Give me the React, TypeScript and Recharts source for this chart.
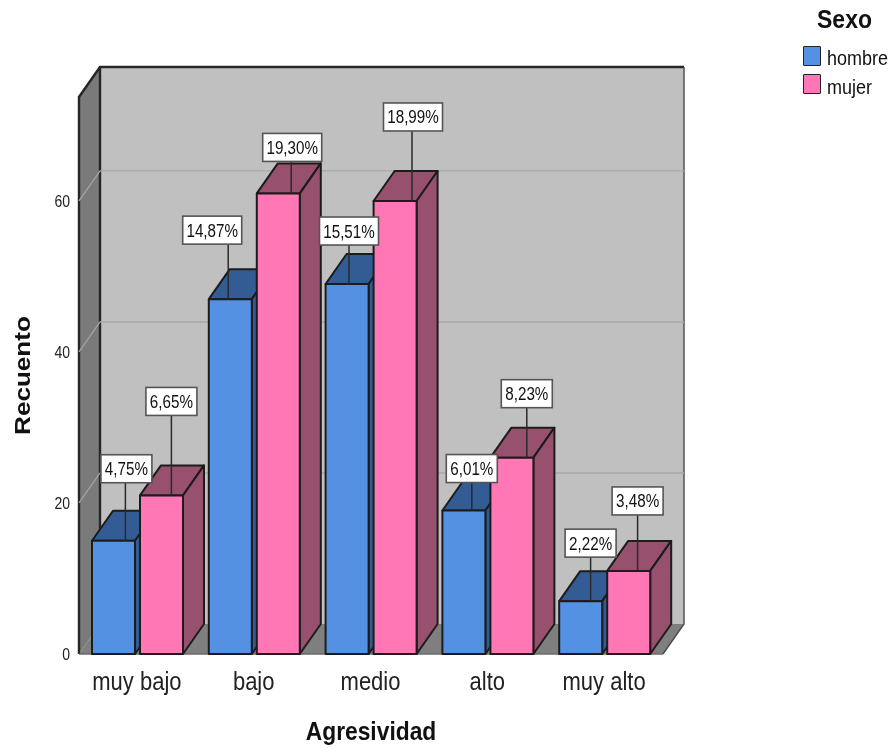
import React from "react";
import { BarChart, Bar, XAxis, YAxis, ReferenceArea, ReferenceLine, ReferenceDot, Legend } from "recharts";

const categories = ["muy bajo", "bajo", "medio", "alto", "muy alto"];
const hombre = [15, 47, 49, 19, 7];
const mujer = [21, 61, 60, 26, 11];
const hombrePct = ["4,75%", "14,87%", "15,51%", "6,01%", "2,22%"];
const mujerPct = ["6,65%", "19,30%", "18,99%", "8,23%", "3,48%"];
const yTicks = [0, 20, 40, 60];
const gridTicks = [20, 40, 60];

// callout placement relative to each bar: leader x, box centre x, box bottom above bar top
const hombreLeaderDx = [12, -2, 2, 8, 10];
const hombreBoxDx = [13, -18, 2, 8, 10];
const hombreRise = [58, 55, 39, 28, 44];
const mujerLeaderDx = [10, 13, 17, 15, 9];
const mujerBoxDx = [10, 14, 18, 15, 9];
const mujerRise = [80, 32, 70, 50, 56];

const data = categories.map((c, i) => ({
  c,
  hombre: hombre[i],
  mujer: mujer[i],
}));

const FONT = "'Liberation Sans', Arial, sans-serif";
const DX = 21;
const DY = 30;
const BAR_W = 43;
const BAR_GAP = 5;
const LINE = "#1c1c1c";
const STRETCH = 1.16;

const Walls = (p: any) => {
  const { x, y, width, height } = p;
  const r = x + width;
  const b = y + height;
  return (
    <g>
      <polygon points={`${x + DX},${y - DY} ${r + DX},${y - DY} ${r + DX},${b - DY} ${x + DX},${b - DY}`} fill="#c0c0c0" />
      <polygon points={`${x},${y} ${x + DX},${y - DY} ${x + DX},${b - DY} ${x},${b}`} fill="#7a7a7a" />
      <polygon points={`${x},${b} ${x + DX},${b - DY} ${r + DX},${b - DY} ${r},${b}`} fill="#7f7f7f" />
      <polyline points={`${x},${b} ${x},${y} ${x + DX},${y - DY} ${r + DX},${y - DY}`} fill="none" stroke="#262626" strokeWidth={2.4} />
      <line x1={x + DX} y1={y - DY} x2={x + DX} y2={b - DY} stroke="#262626" strokeWidth={2.4} />
      <polyline points={`${r + DX},${y - DY} ${r + DX},${b - DY} ${r},${b}`} fill="none" stroke="#4a4a4a" strokeWidth={1.4} />
      <line x1={x} y1={b} x2={r} y2={b} stroke="#6a6a6a" strokeWidth={1.4} />
    </g>
  );
};

const GridLine = (p: any) => {
  const { x1, y1, x2 } = p;
  return (
    <g>
      <line x1={x1 + DX} y1={y1 - DY} x2={x2 + DX} y2={y1 - DY} stroke="#a9a9a9" strokeWidth={1.3} />
      <line x1={x1} y1={y1} x2={x1 + DX} y2={y1 - DY} stroke="#a3a3a3" strokeWidth={1.3} />
    </g>
  );
};

const makeBar = (front: string, dark: string) => (p: any) => {
  const { x, y, width, height } = p;
  const r = x + width;
  const b = y + height;
  return (
    <g stroke={LINE} strokeWidth={2} strokeLinejoin="round">
      <polygon points={`${x},${y} ${x + DX},${y - DY} ${r + DX},${y - DY} ${r},${y}`} fill={dark} />
      <polygon points={`${r},${y} ${r + DX},${y - DY} ${r + DX},${b - DY} ${r},${b}`} fill={dark} />
      <rect x={x} y={y} width={width} height={height} fill={front} />
    </g>
  );
};

const makeCallout = (text: string, leaderDx: number, boxDx: number, rise: number, side: number) => (p: any) => {
  const cx = p.cx + side * ((BAR_W + BAR_GAP) / 2);
  const cy = p.cy;
  const w = text.length > 5 ? 59 : 51;
  const h = 28;
  const bottom = cy - rise;
  return (
    <g>
      <line x1={cx + leaderDx} y1={bottom} x2={cx + leaderDx} y2={cy} stroke="#2a2a2a" strokeWidth={1.5} />
      <rect x={cx + boxDx - w / 2} y={bottom - h} width={w} height={h} fill="#ffffff" stroke="#555555" strokeWidth={1.6} />
      <text
        transform={`translate(${cx + boxDx},${bottom - h / 2 + 6.5}) scale(1,${STRETCH})`}
        textAnchor="middle"
        fontFamily={FONT}
        fontSize={15.2}
        fill="#111"
      >
        {text}
      </text>
    </g>
  );
};

const XTick = (p: any) => (
  <text
    transform={`translate(${p.x - 0.5},${p.y + 24}) scale(1,${STRETCH})`}
    textAnchor="middle"
    fontFamily={FONT}
    fontSize={22}
    fill="#222"
  >
    {p.payload.value}
  </text>
);

const YTick = (p: any) => (
  <text
    transform={`translate(${p.x + 2},${p.y + 6}) scale(1,${STRETCH})`}
    textAnchor="end"
    fontFamily={FONT}
    fontSize={14}
    fill="#222"
  >
    {p.payload.value}
  </text>
);

const XTitle = (p: any) => {
  const { x, width } = p.viewBox;
  return (
    <text
      transform={`translate(${x + width / 2},740) scale(1,${STRETCH})`}
      textAnchor="middle"
      fontFamily={FONT}
      fontSize={22.8}
      fontWeight={700}
      fill="#111"
    >
      Agresividad
    </text>
  );
};

const YTitle = (p: any) => {
  const { y, height } = p.viewBox;
  return (
    <text
      transform={`translate(30,${y + height / 2}) scale(1,${STRETCH}) rotate(-90)`}
      textAnchor="middle"
      fontFamily={FONT}
      fontSize={22.5}
      fontWeight={700}
      fill="#111"
    >
      Recuento
    </text>
  );
};

const legendText = { position: "absolute", left: 24, fontSize: 18, lineHeight: "22px", transform: `scaleY(${STRETCH})`, whiteSpace: "nowrap" } as const;

const LegendBox = () => (
  <div style={{ position: "relative", width: 0, height: 0, fontFamily: FONT, color: "#111" }}>
    <div style={{ position: "absolute", left: 14, top: 6, fontSize: 23, fontWeight: 700, whiteSpace: "nowrap", transform: `scaleY(${STRETCH})` }}>Sexo</div>
    <div style={{ position: "absolute", left: 0, top: 46, width: 16, height: 18, background: "#5591e3", border: "1.6px solid #222", borderRadius: 1 }} />
    <div style={{ ...legendText, top: 47 }}>hombre</div>
    <div style={{ position: "absolute", left: 0, top: 74, width: 16, height: 18, background: "#ff77b4", border: "1.6px solid #222", borderRadius: 1 }} />
    <div style={{ ...legendText, top: 76 }}>mujer</div>
  </div>
);

export default function App() {
  return (
    <div style={{ position: "absolute", left: 0, top: 0, width: 891, height: 748, background: "#fff", filter: "blur(0.4px)" }}>
      <BarChart
        width={891}
        height={748}
        data={data}
        margin={{ top: 97, right: 228, bottom: 44, left: 29 }}
        barSize={BAR_W}
        barGap={BAR_GAP}
      >
        <XAxis dataKey="c" height={50} axisLine={false} tickLine={false} tick={XTick} tickMargin={6} label={XTitle} />
        <YAxis
          width={50}
          domain={[0, 73.77]}
          ticks={yTicks}
          axisLine={false}
          tickLine={false}
          tick={YTick}
          tickMargin={5}
          label={YTitle}
        />
        <ReferenceArea y1={0} y2={73.77} shape={Walls} ifOverflow="visible" />
        {gridTicks.map((t) => (
          <ReferenceLine key={t} y={t} shape={GridLine} ifOverflow="visible" zIndex={200} />
        ))}
        <Legend content={LegendBox} layout="vertical" wrapperStyle={{ position: "absolute", left: 803, top: 0, width: 0, height: 0 }} />
        <Bar dataKey="hombre" isAnimationActive={false} fill="#5591e3" shape={makeBar("#5591e3", "#335c94")} />
        <Bar dataKey="mujer" isAnimationActive={false} fill="#ff77b4" shape={makeBar("#ff77b4", "#98506f")} />
        {categories.map((c, i) => (
          <ReferenceDot key={"h" + c} x={c} y={hombre[i]} ifOverflow="visible" shape={makeCallout(hombrePct[i], hombreLeaderDx[i], hombreBoxDx[i], hombreRise[i], -1)} />
        ))}
        {categories.map((c, i) => (
          <ReferenceDot key={"m" + c} x={c} y={mujer[i]} ifOverflow="visible" shape={makeCallout(mujerPct[i], mujerLeaderDx[i], mujerBoxDx[i], mujerRise[i], 1)} />
        ))}
      </BarChart>
    </div>
  );
}
